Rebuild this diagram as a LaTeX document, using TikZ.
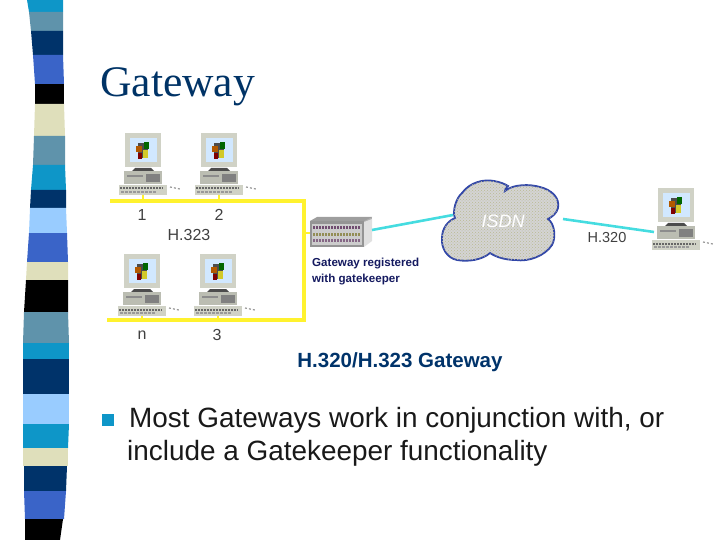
\documentclass[tikz,border=0pt]{standalone}
\usepackage{fontspec}
\setmainfont{Liberation Sans}
\newfontfamily\titlefont{Liberation Serif}
\usepackage{xcolor}
\usetikzlibrary{positioning,patterns,calc}
\definecolor{stripecyan}{HTML}{0E96C8}
\definecolor{stripesteel}{HTML}{5F93AB}
\definecolor{stripenavy}{HTML}{00336A}
\definecolor{stripeblue}{HTML}{3A64C8}
\definecolor{stripelight}{HTML}{99CCFF}
\definecolor{stripebeige}{HTML}{DFDFBB}
\definecolor{titlenavy}{HTML}{003366}
\definecolor{pcgray}{HTML}{D0D2C6}
\definecolor{labelnavy}{HTML}{14195F}
\definecolor{cloudline}{HTML}{3146A8}
\definecolor{isdnline}{HTML}{45DCE0}
\definecolor{busyellow}{HTML}{FFF22E}
\tikzset{
    computer/.pic={
        \fill[pcgray] (-18,-32) rectangle (18,2);
        \fill[stripelight!45!white] (-13,-27) rectangle (14,-3);
        \fill[black!70] (-5,-22) rectangle (5,-7);
        \fill[orange!70!black] (-7,-19) rectangle (-1,-13);
        \fill[green!40!black] (1,-23) rectangle (6,-16);
        \fill[yellow!80!black] (0,-15) rectangle (5,-7);
        \fill[red!50!black] (-5,-12) rectangle (-1,-6);
        \fill[black!70] (-8,3) -- (8,3) -- (11,6) -- (-11,6) -- cycle;
        \fill[pcgray!90!black] (-19,6) rectangle (19,19);
        \fill[black!50] (3,9) rectangle (17,17);
        \fill[black!45] (-16,10) rectangle (0,12);
        \fill[pcgray] (-24,20) rectangle (24,30);
        \draw[black!60, line width=2pt, dash pattern=on 2pt off 1pt] (-23,23.5) -- (20,23.5);
        \draw[black!40, line width=2pt, dash pattern=on 3pt off 1pt] (-22,27) -- (14,27);
        \draw[black!40, line width=1.2pt, dash pattern=on 2pt off 2pt] (27,22) -- (37,24);
        \coordinate (-base) at (0,30);
        \coordinate (-side) at (-22,12);
    }
}
\begin{document}
\begin{tikzpicture}[x=1pt, y=-1pt,
        bus/.style={busyellow, line width=3.6pt},
        stub/.style={busyellow, line width=1.5pt},
        isdnlink/.style={isdnline, line width=2.6pt},
        pclabel/.style={font=\fontsize{16}{16}\selectfont, text=black!75},
        bodytext/.style={font=\fontsize{27.9}{27.9}\selectfont, text=black!90, anchor=base west, inner sep=0pt}
    ]
    \useasboundingbox (0,0) rectangle (720,540);

    % side stripes
    \foreach \ya/\yb/\la/\lb/\ra/\rb/\col in {
        0/12/27/29/63/63/stripecyan, 12/31/29/31/63/63/stripesteel,
        31/55/31/33/63/63/stripenavy, 55/84/33/35/63/64/stripeblue,
        84/104/35/35/64/64/black, 104/136/35/34/64/65/stripebeige,
        136/165/34/33/65/65/stripesteel, 165/190/33/31/65/66/stripecyan,
        190/208/31/30/66/66/stripenavy, 208/233/30/29/66/67/stripelight,
        233/262/29/27/67/68/stripeblue, 262/280/27/26/68/68/stripebeige,
        280/312/26/24/68/68/black, 312/343/24/23/68/69/stripesteel,
        343/359/23/23/69/69/stripecyan, 359/394/23/23/69/69/stripenavy,
        394/424/23/23/69/69/stripelight, 424/448/23/23/69/68/stripecyan,
        448/466/23/23/68/68/stripebeige, 466/491/24/24/67/66/stripenavy,
        491/519/24/25/66/64/stripeblue, 519/540/25/25/63/60/black}
        \fill[\col] (\la,\ya) -- (\ra,\ya) -- (\rb,\yb) -- (\lb,\yb) -- cycle;

    \node[font=\titlefont\fontsize{43.6}{43.6}\selectfont, text=titlenavy, anchor=base west, inner sep=0pt] (title) at (100,97) {Gateway};

    % computers
    \pic (pca) at (143,165) {computer};
    \pic (pcb) at (219,165) {computer};
    \pic (pcn) at (142,286) {computer};
    \pic (pcc) at (218,286) {computer};
    \pic (pcr) at (676,220) {computer};

    % yellow bus
    \coordinate (bustl) at (110,201);
    \coordinate (bustr) at (304,201);
    \coordinate (busbr) at (304,320);
    \coordinate (busbl) at (107,320);
    \coordinate (buswest) at (304,233);
    \draw[bus] (bustl) -- (bustr) -- (busbr) -- (busbl);
    \foreach \pc in {pca,pcb}
        \draw[stub] (\pc-base) -- (\pc-base |- bustl);
    \foreach \pc in {pcn,pcc}
        \draw[stub] (\pc-base) -- (\pc-base |- busbl);

    % gateway box
    \fill[black!30] (317,217) rectangle (372,241);
    \fill[black!12] (364,222) -- (372,219) -- (372,241) -- (364,247) -- cycle;
    \fill[black!38] (310,221) -- (317,217) -- (372,217) -- (364,221) -- cycle;
    \fill[black!42] (310,221) rectangle (364,247);
    \fill[black!20] (312,224) rectangle (362,245);
    \draw[violet!40!black!70, line width=3pt, dash pattern=on 2pt off 1pt] (313,228) -- (361,228);
    \draw[olive!60!black!70, line width=3pt, dash pattern=on 2pt off 1pt] (313,234) -- (361,234);
    \draw[violet!40!black!60, line width=3pt, dash pattern=on 2pt off 1pt] (313,240) -- (361,240);
    \coordinate (gwwest) at (310,233);
    \coordinate (gweast) at (372,230);
    \draw[stub] (buswest) -- (gwwest);

    % cloud
    \draw[cloudline, line width=1.8pt, fill=black!17, postaction={pattern=crosshatch dots, pattern color=olive!45!black!35}]
        (455,218) .. controls (452,212) and (456,198) .. (462,193)
        .. controls (470,182) and (484,179) .. (494,181)
        .. controls (500,182) and (505,184) .. (508,186)
        .. controls (506,187) and (505,189) .. (505,191)
        .. controls (513,184) and (530,184) .. (540,187)
        .. controls (552,190) and (560,198) .. (558,208)
        .. controls (557,213) and (552,217) .. (548,219)
        .. controls (555,224) and (556,238) .. (552,245)
        .. controls (545,256) and (528,262) .. (516,260)
        .. controls (505,260) and (496,257) .. (490,253)
        .. controls (482,260) and (468,262) .. (457,260)
        .. controls (447,258) and (441,248) .. (442,238)
        .. controls (442,228) and (448,221) .. (455,218) -- cycle;
    \node[font=\itshape\fontsize{18}{18}\selectfont, text=white, inner sep=0pt] (isdn) at (503,221) {ISDN};
    \coordinate (isdnwest) at (453,215);
    \coordinate (isdneast) at (563,219);

    \draw[isdnlink] (gweast) -- (isdnwest);
    \draw[isdnlink] (isdneast) -- (pcr-side);

    % labels
    \node[pclabel] (numa) at (142,215) {1};
    \node[pclabel] (numb) at (219,215) {2};
    \node[pclabel] (numn) at (142,335) {n};
    \node[pclabel] (numc) at (217,335) {3};
    \node[pclabel] (hconf) at (189,235) {H.323};
    \node[pclabel, font=\fontsize{14.5}{14.5}\selectfont] (hisdn) at (607,238) {H.320};
    \node[font=\bfseries\fontsize{11.6}{14}\selectfont, text=labelnavy, align=left, anchor=north west, inner sep=0pt] (gwlabel) at (312,258) {Gateway registered\\[2pt]with gatekeeper};
    \node[font=\bfseries\fontsize{20.5}{20}\selectfont, text=stripenavy] (caption) at (400,362) {H.320/H.323 Gateway};

    % bullet text
    \node[fill=stripecyan, minimum size=12pt, inner sep=0pt] (bullet) at (108,420) {};
    \node[bodytext] (linea) at (129,427) {Most Gateways work in conjunction with, or};
    \node[bodytext] (lineb) at (127,460) {include a Gatekeeper functionality};
\end{tikzpicture}
\end{document}
